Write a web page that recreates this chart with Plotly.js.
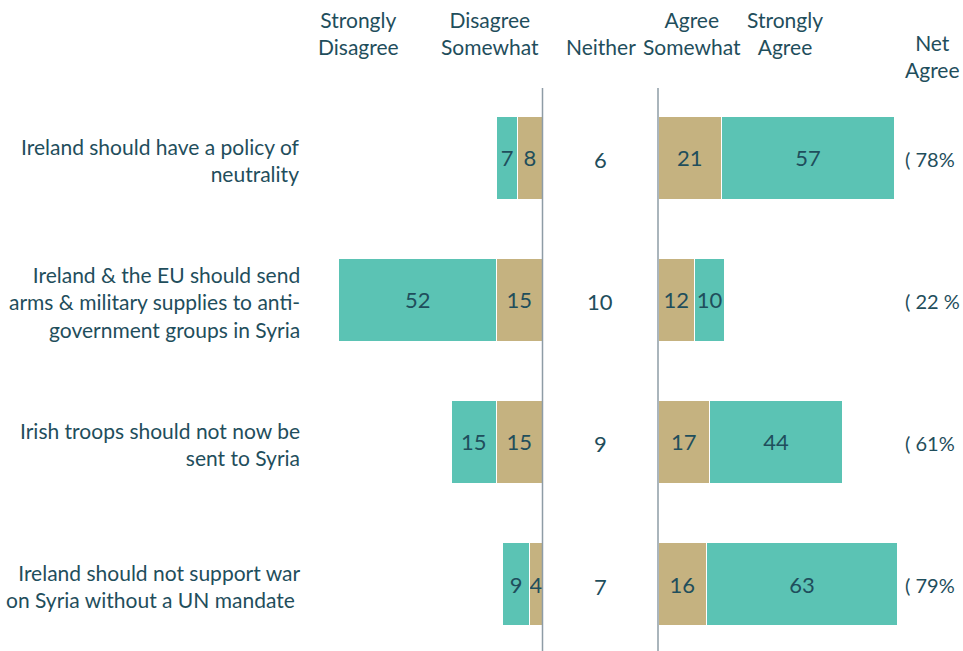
<!DOCTYPE html>
<html>
<head>
<meta charset="utf-8">
<script src="https://cdn.plot.ly/plotly-3.0.1.min.js"></script>
<style>html,body{margin:0;padding:0;background:#fff;}#chart{width:963px;height:651px;}</style>
</head>
<body>
<div id="chart"></div>
<script>
// ---- data ----
const statements = [
  "Ireland should have a policy of<br>neutrality",
  "Ireland & the EU should send<br>arms & military supplies to anti-<br>government groups in Syria",
  "Irish troops should not now be<br>sent to Syria",
  "Ireland should not support war<br>on Syria without a UN mandate "
];
const rows = [0, 1, 2, 3];
const stronglyDisagree = [7, 52, 15, 9];
const disagreeSomewhat = [8, 15, 15, 4];
const neither = [6, 10, 9, 7];
const agreeSomewhat = [21, 12, 17, 16];
const stronglyAgree = [57, 10, 44, 63];
const netAgreeLabels = ["( 78%", "( 22 %", "( 61%", "( 79%"];
const headers = [
  {text: "Strongly<br>Disagree", x: 358, y: 33},
  {text: "Disagree<br>Somewhat", x: 490, y: 33},
  {text: "Neither", x: 601, y: 47},
  {text: "Agree<br>Somewhat", x: 692, y: 33},
  {text: "Strongly<br>Agree", x: 785, y: 33},
  {text: "Net<br>Agree", x: 932, y: 56}
];

// ---- style ----
const W = 963, H = 651;
const TEAL = "#5BC3B4", TAN = "#C5B280", TXT = "#1F4E5C", LINE = "#8E9CA6";
const FONT = "Lato, 'Open Sans', sans-serif";
const px = v => v / W;
const py = v => 1 - v / H;

const barCommon = {
  type: "bar", orientation: "h", y: rows, width: 0.584,
  textposition: "inside", insidetextanchor: "middle", constraintext: "none",
  textfont: {family: FONT, size: 22, color: TXT},
  hoverinfo: "skip", showlegend: false
};

const traces = [
  Object.assign({}, barCommon, {x: disagreeSomewhat, text: disagreeSomewhat.map(String), xaxis: "x", yaxis: "y", marker: {color: TAN, line: {color: "#fff", width: 1}}}),
  Object.assign({}, barCommon, {x: stronglyDisagree, text: stronglyDisagree.map(String), xaxis: "x", yaxis: "y", marker: {color: TEAL, line: {color: "#fff", width: 1}}}),
  Object.assign({}, barCommon, {x: agreeSomewhat, text: agreeSomewhat.map(String), xaxis: "x2", yaxis: "y", marker: {color: TAN, line: {color: "#fff", width: 1}}}),
  Object.assign({}, barCommon, {x: stronglyAgree, text: stronglyAgree.map(String), xaxis: "x2", yaxis: "y", marker: {color: TEAL, line: {color: "#fff", width: 1}}}),
  {type: "scatter", mode: "markers", x: rows.map(() => 0.5), y: rows, marker: {opacity: 0, size: 1},
   xaxis: "x3", yaxis: "y", hoverinfo: "skip", showlegend: false}
];

const axisHidden = {showgrid: false, zeroline: false, showticklabels: false, showline: false, ticks: "", fixedrange: true};
const yTop = 88;

const annotations = [];
statements.forEach((s, i) => annotations.push({
  xref: "paper", yref: "y", x: px(302), y: rows[i], yshift: -2, xanchor: "right", yanchor: "middle",
  align: "right", text: s, showarrow: false, font: {family: FONT, size: 21, color: TXT}
}));
neither.forEach((v, i) => annotations.push({
  xref: "x3", yref: "y", x: 0.5, y: rows[i], yshift: -2, xanchor: "center", yanchor: "middle",
  text: String(v), showarrow: false, font: {family: FONT, size: 22, color: TXT}
}));
netAgreeLabels.forEach((s, i) => annotations.push({
  xref: "paper", yref: "y", x: px(903), y: rows[i], yshift: -1, xanchor: "left", yanchor: "middle",
  text: s, showarrow: false, font: {family: FONT, size: 20, color: TXT}
}));
headers.forEach(h => annotations.push({
  xref: "paper", yref: "paper", x: px(h.x), y: py(h.y), xanchor: "center", yanchor: "middle",
  align: "center", text: h.text, showarrow: false, font: {family: FONT, size: 21, color: TXT}
}));

const layout = {
  width: W, height: H,
  margin: {l: 0, r: 0, t: 0, b: 0, pad: 0},
  paper_bgcolor: "#fff", plot_bgcolor: "rgba(0,0,0,0)",
  barmode: "stack", bargap: 0,
  font: {family: FONT, color: TXT},
  xaxis: Object.assign({}, axisHidden, {domain: [px(542 - 242.4), px(542)], range: [80, 0]}),
  xaxis2: Object.assign({}, axisHidden, {domain: [px(658), px(658 + 242.4)], range: [0, 80]}),
  xaxis3: Object.assign({}, axisHidden, {domain: [px(542), px(658)], range: [0, 1]}),
  yaxis: Object.assign({}, axisHidden, {domain: [0, py(yTop)], range: [3.47, -0.489]}),
  shapes: [
    {type: "line", xref: "paper", yref: "paper", x0: px(542.5), x1: px(542.5), y0: 0, y1: py(yTop), line: {color: LINE, width: 1.5}, layer: "above"},
    {type: "line", xref: "paper", yref: "paper", x0: px(658), x1: px(658), y0: 0, y1: py(yTop), line: {color: LINE, width: 1.5}, layer: "above"}
  ],
  annotations: annotations
};

Plotly.newPlot("chart", traces, layout, {displayModeBar: false, staticPlot: true});
</script>
</body>
</html>
